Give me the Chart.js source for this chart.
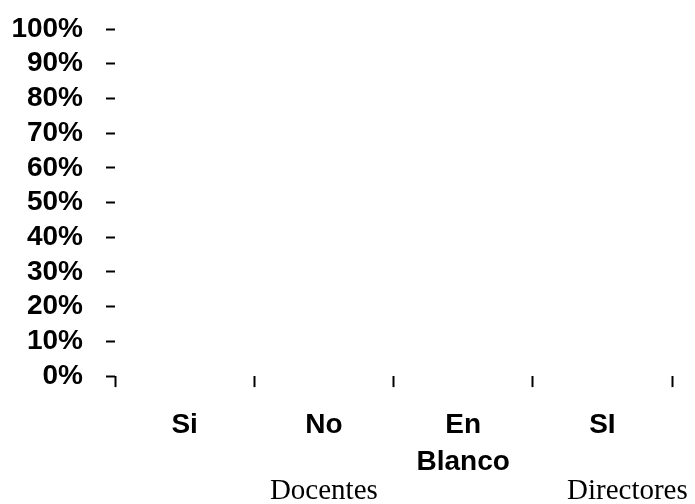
<!DOCTYPE html>
<html lang="es">
  <head>
    <meta charset="UTF-8" />
    <title>Docentes / Directores</title>
    <script src="https://cdn.jsdelivr.net/npm/chart.js"></script>
    <style>
      body {
        margin: 0;
        background: #fff;
      }
      #wrap {
        width: 695px;
        height: 504px;
        position: relative;
      }
    </style>
  </head>
  <body>
    <div id="wrap">
      <canvas id="chart"></canvas>
    </div>

    <script>
      const categories = ["Si", "No", ["En", "Blanco"], "SI"];
      const values = [0, 0, 0, 0];
      const yMin = 0;
      const yMax = 100;
      const yStep = 10;
      const groupLabels = ["Docentes", "Directores"];
      const groupFrom = [0, 3];
      const groupTo = [2, 3];

      const boldFont = "'Liberation Sans', Arial, sans-serif";

      // draws the group names under the category labels
      const groupPlugin = {
        id: "groups",
        afterDraw(chart) {
          const ctx = chart.ctx;
          const x = chart.scales.x;
          ctx.save();
          ctx.font = "29px 'Liberation Serif', 'Times New Roman', serif";
          ctx.fillStyle = "#000";
          ctx.textAlign = "center";
          ctx.textBaseline = "alphabetic";
          groupLabels.forEach((name, i) => {
            let cx =
              (x.getPixelForValue(groupFrom[i]) +
                x.getPixelForValue(groupTo[i])) / 2;
            if (groupFrom[i] === groupTo[i]) cx += 25;
            ctx.fillText(name, cx, 499);
          });
          ctx.restore();
        },
      };

      new Chart(document.getElementById("chart"), {
        type: "bar",
        data: {
          labels: categories,
          datasets: [
            {
              data: values,
              backgroundColor: "#9999ff",
              borderColor: "#000",
              borderWidth: 1,
            },
          ],
        },
        options: {
          responsive: true,
          maintainAspectRatio: false,
          animation: false,
          layout: {
            padding: { top: 29, right: 23, bottom: 3, left: 11 },
          },
          plugins: {
            legend: { display: false },
            tooltip: { enabled: false },
          },
          scales: {
            x: {
              border: { display: false },
              grid: {
                offset: true,
                drawOnChartArea: false,
                tickLength: 11,
                tickWidth: 2,
                tickColor: "#000",
              },
              ticks: {
                color: "#000",
                padding: 20,
                maxRotation: 0,
                font: {
                  family: boldFont,
                  size: 28,
                  weight: "bold",
                  lineHeight: 1.32,
                },
              },
            },
            y: {
              min: yMin,
              max: yMax,
              border: { display: false },
              afterFit: (scale) => {
                scale.width = 104;
                scale.paddingTop = 0;
                scale.paddingBottom = 0;
              },
              grid: {
                drawOnChartArea: false,
                tickLength: 9,
                tickWidth: 2,
                tickColor: "#000",
              },
              ticks: {
                stepSize: yStep,
                autoSkip: false,
                color: "#000",
                padding: 23,
                callback: (v) => v + "%",
                font: {
                  family: boldFont,
                  size: 28,
                  weight: "bold",
                },
              },
            },
          },
        },
        plugins: [groupPlugin],
      });
    </script>
  </body>
</html>
